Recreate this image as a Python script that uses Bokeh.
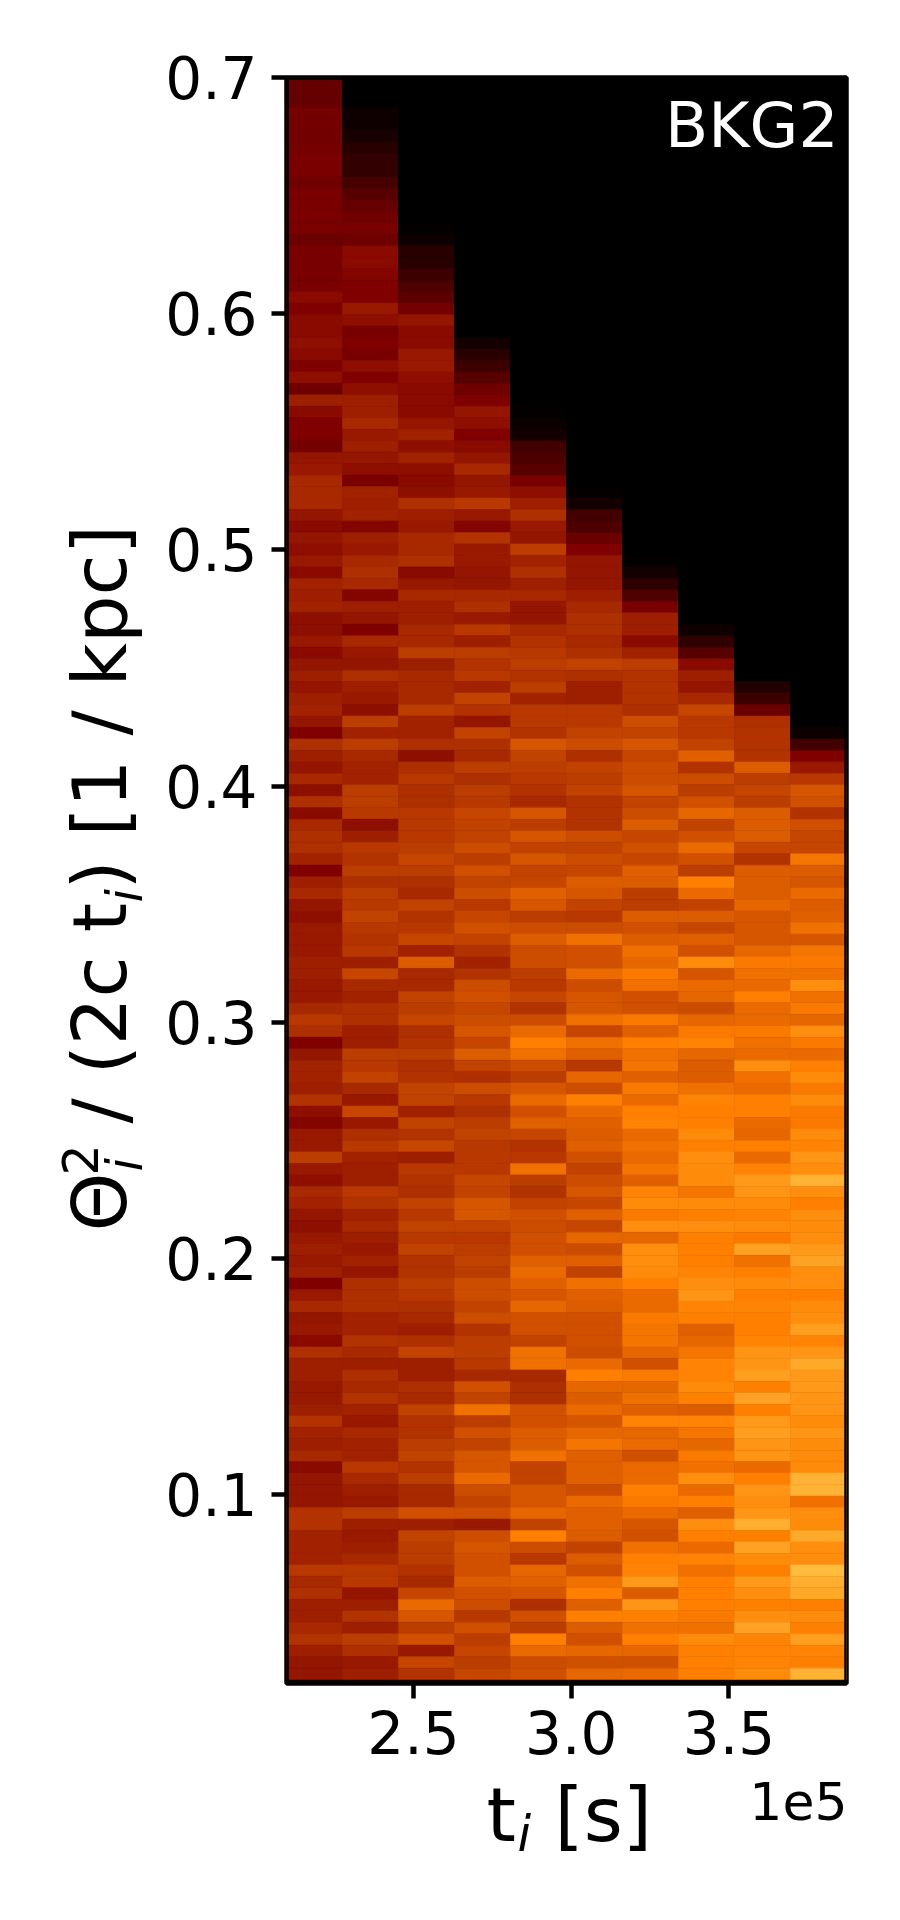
from bokeh.plotting import figure
from bokeh.models import ColumnDataSource, Range1d, FixedTicker, LinearColorMapper, Label, BoxAnnotation
from bokeh.transform import transform
from bokeh.embed import file_html
from bokeh.resources import INLINE
import math

# afmhot level x100 per cell, each column listed top row to bottom row
col_0 = [20,20,20,23,23,23,23,24,24,22,24,24,24,24,21,24,24,24,24,27,25,27,27,28,27,25,28,22,31,27,25,25,23,29,30,33,
 33,33,29,27,29,28,30,27,32,31,32,28,28,30,27,29,31,29,31,32,29,25,34,31,29,33,28,34,27,33,34,34,32,25,31,33,
 29,28,30,30,30,31,31,30,30,33,36,34,25,29,32,32,31,35,28,26,30,30,37,30,28,33,32,29,28,30,31,30,31,25,30,33,29,
 30,27,34,31,31,30,30,31,35,32,31,33,27,29,29,29,35,35,32,32,32,36,33,34,31,31,33,35,31,29,29]
col_1 = [0,0,0,3,3,5,8,10,10,14,17,20,22,24,22,27,27,26,25,25,30,28,24,25,24,28,25,28,31,31,33,30,31,29,28,24,
 32,31,32,26,31,30,33,34,33,26,31,29,25,33,30,29,34,31,30,28,37,32,37,33,32,32,37,37,36,28,31,36,35,37,34,37,
 36,38,36,35,36,31,39,33,32,34,34,31,31,37,36,38,33,30,39,30,34,36,32,31,31,36,35,32,33,31,30,32,29,34,34,34,32,
 32,35,33,31,34,33,35,32,30,33,32,32,36,33,31,30,37,31,30,31,33,36,36,29,31,35,31,37,34,30,31]
col_2 = [0]*13 + [1,3,8,8,12,15,18,23,29,27,27,30,30,28,27,27,27,29,32,28,32,28,27,
 28,34,31,30,33,33,34,27,30,33,31,31,33,33,37,31,33,33,33,37,32,32,34,28,34,36,34,34,36,36,36,37,39,37,34,33,
 38,35,36,39,32,43,33,33,38,37,39,34,35,37,34,35,38,38,32,38,35,39,31,36,35,34,38,36,38,36,38,35,35,37,36,34,33,
 31,34,38,31,31,34,33,38,35,35,37,38,35,37,33,33,41,31,38,37,37,35,33,39,46,42,37,41,30,39,35]
col_3 = [0]*23 + [4,8,12,17,22,25,29,28,25,27,29,33,29,
 30,36,30,26,35,30,30,29,29,33,34,30,36,31,37,35,36,32,38,35,29,38,34,33,37,34,37,36,39,38,38,40,37,41,38,40,
 36,39,41,38,35,32,35,40,41,39,40,42,39,43,38,34,40,36,34,37,38,36,36,36,39,38,42,42,38,36,37,38,37,40,40,38,40,
 35,37,37,36,33,41,38,47,37,41,38,42,42,46,40,38,41,30,40,42,41,41,43,41,40,36,41,37,39,37,39]
col_4 = [0]*29 + [1,2,4,13,15,17,24,
 28,31,34,30,29,37,32,34,31,33,29,29,33,35,36,37,35,37,32,36,36,35,42,38,37,36,35,33,42,37,42,38,42,38,39,44,
 42,37,40,43,40,40,37,36,39,35,40,46,50,47,40,37,42,46,41,44,39,35,36,47,37,35,38,41,40,41,41,44,46,44,42,45,41,
 41,38,47,47,33,34,34,41,41,43,43,47,38,38,42,42,45,38,50,40,36,45,44,42,34,41,37,50,46,40,41]
col_5 = [0]*36 + [1,4,13,15,21,25,29,29,29,31,33,34,34,33,34,38,34,31,31,36,36,38,40,34,38,37,38,35,35,35,40,38,40,39,43,42,
 38,36,40,47,41,41,46,40,42,42,47,39,47,44,36,45,40,50,46,44,43,44,41,38,40,42,39,44,39,45,40,44,38,47,44,43,41,
 41,41,40,46,50,45,43,46,42,45,48,44,44,44,40,46,44,44,43,38,43,41,47,50,44,50,43,41,45,41,45]
col_6 = [0]*42 + [1,4,9,16,24,31,31,27,32,37,35,35,35,34,40,38,42,39,40,40,42,38,40,43,39,41,39,44,43,37,
 37,43,41,43,47,45,49,47,41,41,49,44,50,47,48,44,49,46,50,51,46,47,46,48,44,51,52,49,53,45,53,53,52,50,46,46,49,
 48,48,45,41,49,45,47,44,51,45,46,41,46,46,50,49,46,42,41,47,50,51,55,43,54,50,47,50,45,41,46]
col_7 = [0]*48 + [3,9,17,27,31,29,33,39,36,36,38,44,35,40,37,41,45,38,41,46,41,37,50,46,
 38,43,39,44,41,52,42,46,45,40,45,49,51,45,43,43,47,51,50,50,52,50,53,52,52,48,52,50,53,50,50,50,51,53,54,51,50,
 44,45,48,51,51,52,50,43,51,48,45,49,47,53,46,50,44,53,50,46,51,47,50,50,50,49,47,52,50,50,50]
col_8 = [0]*53 + [7,12,21,34,35,35,35,43,37,39,37,43,43,43,39,35,43,43,43,
 45,42,42,42,45,49,47,46,50,46,46,49,47,46,53,47,46,50,50,46,45,50,46,51,55,54,52,51,52,49,57,47,50,52,50,51,50,
 50,51,54,54,56,50,57,50,55,56,54,54,46,50,54,53,54,59,50,57,52,50,55,53,50,53,57,51,51,51,52]
col_9 = [0]*57 + [3,13,25,30,36,42,41,35,41,39,39,48,43,42,46,
 43,44,47,42,48,49,47,53,47,49,45,53,49,46,50,52,49,52,49,49,52,51,54,53,60,53,50,53,52,53,55,57,53,53,50,52,53,
 56,51,54,58,55,55,54,54,52,54,52,52,52,60,60,47,53,52,58,53,53,62,59,58,50,52,50,56,51,50,60]

x_ticks = [250000, 300000, 350000]
x_tick_labels = ["2.5", "3.0", "3.5"]
y_ticks = [0.1, 0.2, 0.3, 0.4, 0.5, 0.6, 0.7]

columns = [col_0, col_1, col_2, col_3, col_4, col_5, col_6, col_7, col_8, col_9]
for c in columns:
    assert len(c) == 140, len(c)

X0, DX = 209760.0, 17750.0
Y0, DY = 0.02165, 0.004857
N_ROWS = 140

left, right, top, bottom, lev = [], [], [], [], []
for i, c in enumerate(columns):
    for r, v in enumerate(c):
        left.append(X0 + i * DX)
        right.append(X0 + (i + 1) * DX)
        top.append(Y0 + (N_ROWS - r) * DY)
        bottom.append(Y0 + (N_ROWS - r - 1) * DY)
        lev.append(v)


def afmhot(t):
    cl = lambda a: max(0.0, min(1.0, a))
    return "#%02x%02x%02x" % (round(255 * cl(2 * t)), round(255 * cl(2 * t - 0.5)), round(255 * cl(2 * t - 1)))


palette = [afmhot(i / 255) for i in range(256)]
mapper = LinearColorMapper(palette=palette, low=0, high=100)

FRAME_L, FRAME_T, FRAME_W, FRAME_H = 286, 77, 560, 1606
W, H = 892, 1912
p = figure(width=W, height=H, frame_width=FRAME_W, frame_height=FRAME_H,
           x_range=Range1d(X0, X0 + 10 * DX), y_range=Range1d(0.02, 0.7),
           output_backend="svg", toolbar_location=None,
           min_border_left=FRAME_L, min_border_right=W - FRAME_L - FRAME_W,
           min_border_top=FRAME_T, min_border_bottom=H - FRAME_T - FRAME_H)
p.grid.visible = False
p.background_fill_color = "black"
p.outline_line_color = "black"
p.outline_line_width = 4.5

src = ColumnDataSource(dict(left=left, right=right, top=top, bottom=bottom, lev=lev))
p.quad(left="left", right="right", top="top", bottom="bottom", source=src,
       fill_color=transform("lev", mapper), line_color=transform("lev", mapper), line_width=0.6)

p.add_layout(BoxAnnotation(fill_alpha=0, line_color="black", line_width=4.5, line_alpha=1))

for ax in (p.xaxis[0], p.yaxis[0]):
    ax.axis_line_color = None
    ax.minor_tick_line_color = None
    ax.major_tick_in = 0
    ax.major_tick_out = 15
    ax.major_tick_line_width = 4.5
    ax.major_tick_line_color = "black"
    ax.major_label_text_font = "DejaVu Sans"
    ax.major_label_text_font_size = "58px"
    ax.major_label_text_color = "black"

p.xaxis[0].major_label_standoff = 12
p.yaxis[0].major_label_standoff = 14
p.xaxis[0].ticker = FixedTicker(ticks=x_ticks)
p.xaxis[0].major_label_overrides = dict(zip(x_ticks, x_tick_labels))
p.yaxis[0].ticker = FixedTicker(ticks=y_ticks)

BASE = 0.37  # Label draws "alphabetic" text this many em past the anchor


def add(txt, px, py, size, angle=0.0, align="left", style="normal", color="black"):
    if angle:
        px -= BASE * size
    else:
        py -= BASE * size
    p.add_layout(Label(x=px, y=py, x_units="canvas", y_units="canvas", text=txt,
                       text_font="DejaVu Sans", text_font_size=f"{size}px", text_font_style=style,
                       text_color=color, text_align=align, text_baseline="alphabetic", angle=angle), "below")


R = math.pi / 2
MAIN, SUB = 75, 49
add("BKG2", 838, 148, 63, align="right", color="white")
add("1e5", 847, 1820, 52, align="right")
add("t", 486, 1842, MAIN)
add("i", 517, 1852, SUB, style="italic")
add("[s]", 554, 1842, MAIN)
add("\u0398", 127, 1231, MAIN, angle=R)
add("2", 98, 1175, SUB, angle=R)
add("i", 143, 1171, SUB, angle=R, style="italic")
add("/ (2c t", 127, 1123, MAIN, angle=R)
add("i", 143, 902, SUB, angle=R, style="italic")
add(") [1 / kpc]", 127, 889, MAIN, angle=R)

open("out.html", "w").write(file_html(p, INLINE))
